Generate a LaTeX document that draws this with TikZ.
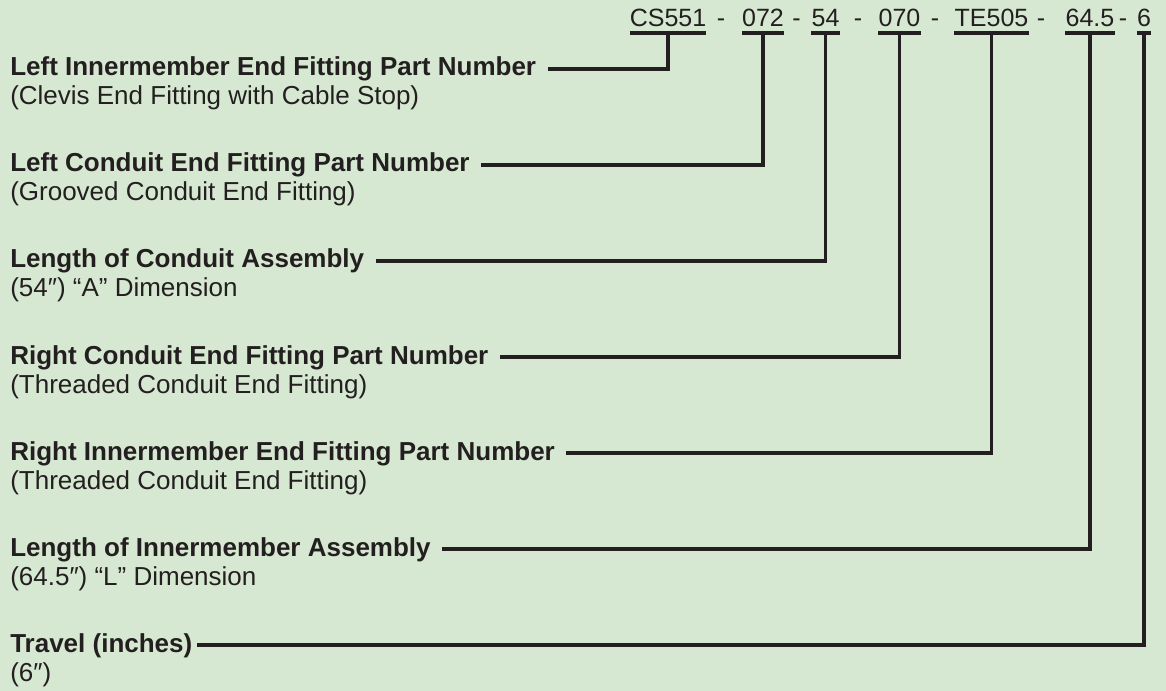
\documentclass[tikz,border=0pt]{standalone}
\usepackage{fontspec}
\setmainfont{Liberation Sans}
\usepackage{tikz}
\definecolor{bg}{RGB}{214,232,209}
\definecolor{ink}{RGB}{35,31,32}
\newcommand{\lsize}{\fontsize{19.5pt}{23pt}\selectfont}
\newcommand{\csize}{\fontsize{18.75pt}{22pt}\selectfont}

\begin{document}
\begin{tikzpicture}[x=0.75pt,y=-0.75pt,
    cd/.style={inner sep=0pt,text depth=4.5pt,font=\csize,text=ink,anchor=base},
    hd/.style={inner sep=0pt,text height=14.25pt,text depth=3.75pt,font=\lsize\bfseries,text=ink,anchor=base west},
    nt/.style={inner sep=0pt,font=\lsize,text=ink,anchor=base west},
    conn/.style={ink,line width=2.4pt},
    ul/.style={ink,line width=3pt}]
  \fill[bg] (0,0) rectangle (1166,691);
  \useasboundingbox (0,0) rectangle (1166,691);
  % part number, one piece per connector
  \foreach \i/\x/\c in {1/668/CS551,2/763/072,3/825.5/54,4/899.5/070,5/991.5/TE505,6/1090/64.5,7/1144/6}{
    \node[cd] (c\i) at (\x,27) {\c};
    \draw[ul] (c\i.south west) -- (c\i.south east);
  }
  \foreach \j/\x in {1/721,2/796.5,3/858,4/935,5/1041,6/1123}
    \node[cd,text depth=0pt] (d\j) at (\x,27) {-};
  % labels
  \foreach \i/\g/\h/\n in {
      1/9/{Left Innermember End Fitting Part Number}/{(Clevis End Fitting with Cable Stop)},
      2/8.5/{Left Conduit End Fitting Part Number}/{(Grooved Conduit End Fitting)},
      3/8.5/{Length of Conduit Assembly}/{(54″) “A” Dimension},
      4/8.5/{Right Conduit End Fitting Part Number}/{(Threaded Conduit End Fitting)},
      5/8.5/{Right Innermember End Fitting Part Number}/{(Threaded Conduit End Fitting)},
      6/8.5/{Length of Innermember Assembly}/{(64.5″) “L” Dimension},
      7/3/{Travel (inches)}/{(6″)}}{
    \node[hd] (l\i) at (10,{76+96*(\i-1)}) {\h};
    \node[nt] (n\i) at (10,{105+96*(\i-1)}) {\n};
    \draw[conn,shorten >=\g pt] (c\i.south) |- (l\i.east);
  }
\end{tikzpicture}
\end{document}
